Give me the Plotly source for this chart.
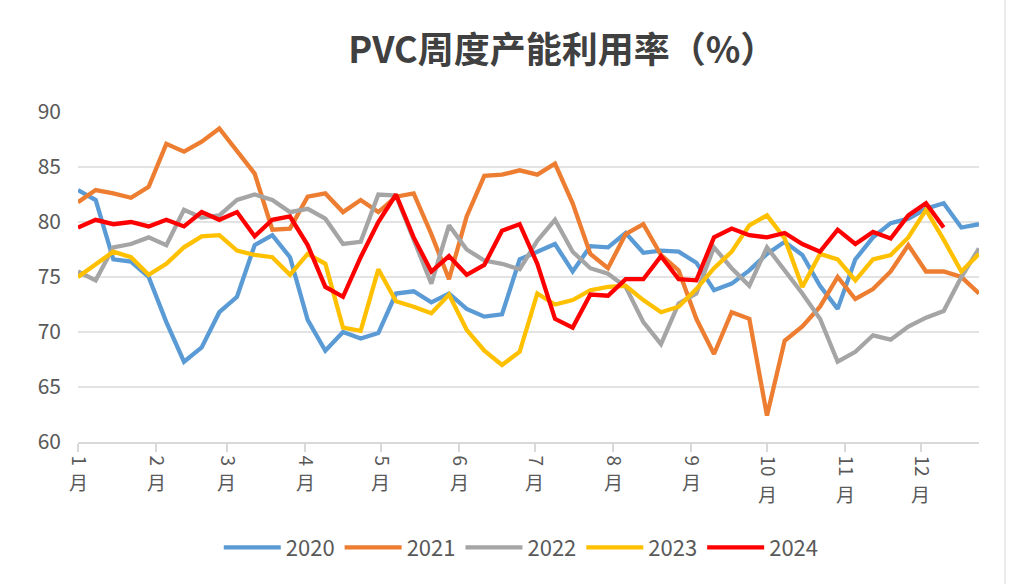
import plotly.graph_objects as go

weeks = list(range(52))

y2020 = [82.9, 82.0, 76.6, 76.4, 75.0, 70.9, 67.3, 68.6, 71.8, 73.2, 77.9, 78.8, 76.8, 71.1, 68.3, 70.0, 69.4, 69.9, 73.5, 73.7,
         72.7, 73.5, 72.1, 71.4, 71.6, 76.6, 77.3, 78.0, 75.5, 77.8, 77.7, 79.0, 77.2, 77.4, 77.3, 76.3, 73.8, 74.4, 75.6, 77.1,
         78.2, 77.0, 74.2, 72.1, 76.6, 78.6, 79.9, 80.3, 81.2, 81.7, 79.5, 79.8]
y2021 = [81.8, 82.9, 82.6, 82.2, 83.2, 87.1, 86.4, 87.3, 88.5, 86.5, 84.4, 79.3, 79.4, 82.3, 82.6, 80.9, 82.0, 80.9, 82.3, 82.6,
         78.9, 74.8, 80.5, 84.2, 84.3, 84.7, 84.3, 85.3, 81.7, 77.1, 75.8, 78.9, 79.8, 77.0, 75.6, 71.2, 68.0, 71.8, 71.2, 62.4,
         69.2, 70.5, 72.3, 75.0, 73.0, 73.9, 75.5, 77.9, 75.5, 75.5, 75.0, 73.5]
y2022 = [75.5, 74.7, 77.7, 78.0, 78.6, 77.9, 81.1, 80.4, 80.6, 82.0, 82.5, 82.0, 80.9, 81.2, 80.3, 78.0, 78.2, 82.5, 82.4, 78.5,
         74.4, 79.7, 77.5, 76.5, 76.2, 75.7, 78.3, 80.2, 77.3, 75.8, 75.3, 74.1, 70.9, 68.9, 72.6, 73.5, 77.7, 75.8, 74.2, 77.7,
         75.6, 73.5, 71.2, 67.3, 68.2, 69.7, 69.3, 70.5, 71.3, 71.9, 75.0, 77.6]
y2023 = [75.0, 76.2, 77.3, 76.8, 75.2, 76.2, 77.7, 78.7, 78.8, 77.4, 77.0, 76.8, 75.2, 77.1, 76.2, 70.4, 70.1, 75.7, 72.8, 72.3,
         71.7, 73.4, 70.2, 68.3, 67.0, 68.2, 73.5, 72.5, 72.9, 73.8, 74.1, 74.2, 72.9, 71.8, 72.3, 73.9, 75.8, 77.3, 79.7, 80.6,
         78.5, 74.1, 77.1, 76.6, 74.7, 76.6, 77.0, 78.6, 81.1, 78.4, 75.5, 77.1]
y2024 = [79.5, 80.2, 79.8, 80.0, 79.6, 80.2, 79.6, 80.9, 80.2, 80.9, 78.7, 80.2, 80.5, 77.9, 74.1, 73.2, 76.8, 80.0, 82.5, 78.6,
         75.5, 76.9, 75.2, 76.1, 79.2, 79.8, 76.2, 71.2, 70.4, 73.4, 73.3, 74.8, 74.8, 76.9, 74.8, 74.7, 78.6, 79.4, 78.8, 78.6,
         79.0, 78.0, 77.3, 79.3, 78.0, 79.1, 78.5, 80.6, 81.7, 79.5]

month_days = [0, 31, 59, 90, 120, 151, 181, 212, 243, 273, 304, 334]
month_nums = [str(m) for m in range(1, 13)]
month_unit = "月"

series = [("2020", y2020, "#5B9BD5"), ("2021", y2021, "#ED7D31"), ("2022", y2022, "#A5A5A5"),
          ("2023", y2023, "#FFC000"), ("2024", y2024, "#FF0000")]

CJK = "Noto Sans CJK SC, sans-serif"
TXT = "#595959"

fig = go.Figure()
for name, ys, col in series:
    fig.add_trace(go.Scatter(x=weeks[:len(ys)], y=ys, mode="lines", name=name,
                             line=dict(color=col, width=4.3)))

# "月" under each rotated month number
annotations = []
for d, num in zip(month_days, month_nums):
    ypix_center = 482 if len(num) == 1 else 493
    annotations.append(dict(x=d / 7, xref="x", y=(442 - ypix_center) / 330, yref="paper",
                            text=month_unit, showarrow=False, xanchor="center", yanchor="middle",
                            font=dict(family=CJK, size=19, color=TXT)))

fig.update_layout(
    width=1015, height=584,
    paper_bgcolor="white", plot_bgcolor="white",
    margin=dict(l=78, r=36, t=112, b=142),
    title=dict(text="<b>PVC周度产能利用率（%）</b>", x=0.554, xanchor="center", y=0.913, yanchor="middle",
               font=dict(family=CJK, size=36, color="#404040")),
    showlegend=True,
    legend=dict(orientation="h", x=0.492, xanchor="center", y=-0.32, yanchor="middle",
                font=dict(family=CJK, size=22, color=TXT), itemwidth=57),
    xaxis=dict(range=[0, 51], tickmode="array", tickvals=[d / 7 for d in month_days], ticktext=month_nums,
               tickangle=90, showgrid=False, showline=True, linecolor="#D9D9D9", linewidth=1.5,
               ticks="outside", ticklen=8, tickcolor="#D9D9D9", tickwidth=1.5, zeroline=False,
               tickfont=dict(family=CJK, size=19, color=TXT)),
    yaxis=dict(range=[60, 90], dtick=5, tick0=60, showgrid=True, gridcolor="#E3E3E3", gridwidth=1.5,
               zeroline=False, showline=False, ticks="", ticklabelstandoff=16,
               tickfont=dict(family=CJK, size=21, color=TXT)),
    annotations=annotations,
    shapes=[dict(type="line", xref="paper", yref="paper", x0=(1005 - 78) / 901, x1=(1005 - 78) / 901,
                 y0=(442 - 584) / 330, y1=(442 - 0) / 330, line=dict(color="#D9D9D9", width=1))],
)

fig.write_html("out.html", config={"displayModeBar": False},
               post_script="document.body.style.margin='0';")
